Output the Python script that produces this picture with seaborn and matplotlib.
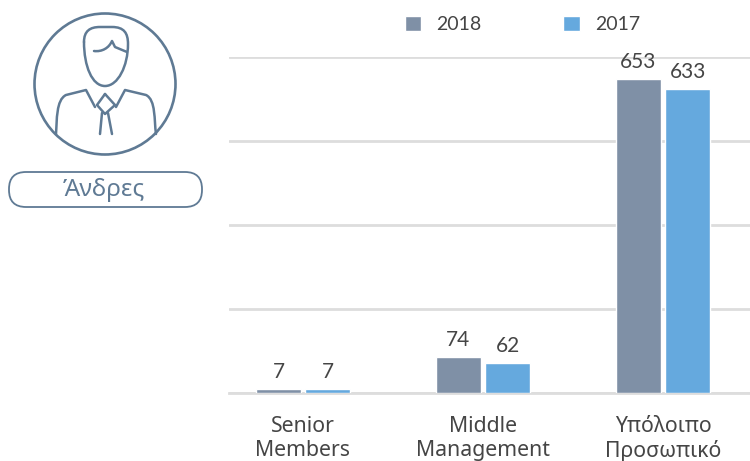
#!/usr/bin/env python3
# -*- coding: utf-8 -*-
"""
Men per staff level, 2018 against 2017, with the person icon on the left
"""
import pandas as pd
from matplotlib import pyplot as plt
from matplotlib.patches import Circle, FancyBboxPatch, PathPatch
from matplotlib.path import Path
import seaborn as sb

"""DATA"""
categories = ["Senior\nMembers", "Middle\nManagement", "Υπόλοιπο\nΠροσωπικό"]
values_2018 = [7, 74, 653]
values_2017 = [7, 62, 633]
y_ticks = [0, 175, 350, 525, 700]
icon_label = "Άνδρες"

"""STYLE"""
sb.set_style("white")
plt.rcParams["font.family"] = ["Lato", "Noto Sans", "DejaVu Sans"]
text_col = "#454545"
icon_col = "#5f7a94"
grid_col = "#dddddd"
palette = {"2018": "#7f90a6", "2017": "#65a9de"}

df = pd.DataFrame({
    "cat": categories * 2,
    "value": values_2018 + values_2017,
    "year": ["2018"] * 3 + ["2017"] * 3,
})

fig = plt.figure(figsize=(7.5, 4.61), dpi=100)
ax = fig.add_axes([229 / 750, 1 - 392.6 / 461, 521 / 750, 336 / 461])

sb.barplot(data=df, x="cat", y="value", hue="year", palette=palette, width=0.545,
           gap=0.07, saturation=1, ax=ax, zorder=3)

ax.set_xlim(-0.411, 2.483)
ax.set_ylim(0, 700)
ax.set_yticks(y_ticks)
ax.set_yticklabels([])
ax.set_xlabel("")
ax.set_ylabel("")
ax.grid(axis="y", color=grid_col, lw=2)
ax.set_axisbelow(True)
ax.tick_params(axis="both", length=0)
ax.tick_params(axis="x", pad=16.5, labelsize=15.3, labelcolor=text_col)
for lab in ax.get_xticklabels():
    lab.set_family(["Noto Sans", "DejaVu Sans"])
    lab.set_fontweight("light")
    lab.set_linespacing(1.2)
sb.despine(ax=ax, left=True, bottom=False, top=True, right=True)
ax.spines["bottom"].set_color(grid_col)
ax.spines["bottom"].set_linewidth(2)
ax.spines["bottom"].set_zorder(1)

# value labels above the bars
for cont in ax.containers:
    ax.bar_label(cont, padding=5, fontsize=15, color=text_col)

# legend on top
handles, labels = ax.get_legend_handles_labels()
ax.legend(handles, labels, loc="upper left", bbox_to_anchor=(387 / 750, 1 + 2 / 461),
          bbox_transform=fig.transFigure, ncol=2, frameon=False, fontsize=14,
          labelcolor=text_col, handlelength=0.87, handleheight=0.87,
          handletextpad=0.77, columnspacing=4.2)

# person icon, drawn in pixel coordinates on a full figure overlay
ov = fig.add_axes([0, 0, 1, 1], zorder=5)
ov.set_xlim(0, 750)
ov.set_ylim(461, 0)
ov.axis("off")
ov.patch.set_alpha(0)

ov.add_patch(Circle((105, 84), 70.5, fill=False, ec=icon_col, lw=1.9))


def stroke(verts, codes=None, lw=1.8):
    if codes is None:
        codes = [Path.MOVETO] + [Path.LINETO] * (len(verts) - 1)
    ov.add_patch(PathPatch(Path(verts, codes), fill=False, ec=icon_col, lw=lw,
                           capstyle="round", joinstyle="round"))


C = Path.CURVE4
L = Path.LINETO
M = Path.MOVETO
# head
stroke([(84, 42), (84, 31), (90, 27), (100, 27), (112, 27), (124, 27), (128, 33), (128, 44),
        (128, 66), (118, 86), (105, 86), (92, 86), (84, 66), (84, 42)],
       [M, C, C, C, L, C, C, C, C, C, C, C, C, C])
# hair line
stroke([(94, 51), (102, 52), (109, 48), (112, 41), (115, 47), (127, 52)],
       [M, C, C, C, L, L])
# shoulders and collar
stroke([(56, 134), (57, 120), (56, 100), (66, 95), (86, 90), (95, 107)],
       [M, C, C, C, L, L])
stroke([(156, 134), (154, 120), (156, 100), (146, 95), (125, 90), (116, 107)],
       [M, C, C, C, L, L])
# tie
stroke([(105, 94), (115, 105), (105, 114), (97, 105), (105, 94)])
stroke([(102, 113), (100, 134)])
stroke([(108, 113), (112, 134)])

# label pill
ov.add_patch(FancyBboxPatch((9, 172), 193, 35, boxstyle="round,pad=0,rounding_size=17",
                            fill=False, ec=icon_col, lw=1.3))
ov.text(104, 190, icon_label, ha="center", va="center", fontsize=17.5, color=icon_col,
        family=["Noto Sans", "DejaVu Sans"], fontweight="light")

plt.savefig("out.png", dpi=100)
plt.close()
